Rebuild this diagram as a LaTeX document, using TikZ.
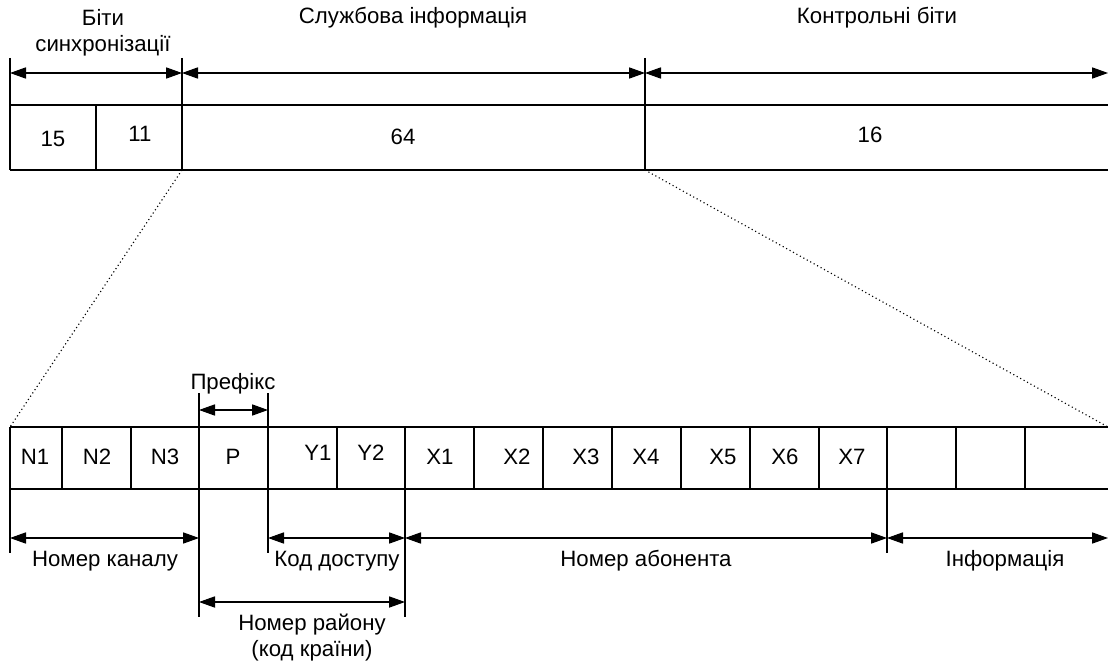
\documentclass[tikz,border=0pt]{standalone}
\usepackage{fontspec}
\setmainfont{Liberation Sans}
\usetikzlibrary{arrows.meta}
\tikzset{
  dimarrow/.style={line width=0.75pt,{Triangle[length=4mm,width=2.8mm]}-{Triangle[length=4mm,width=2.8mm]}},
  lbl/.style={font=\fontsize{15.8}{18.5}\selectfont, inner sep=0pt, align=center},
  frame/.style={line width=0.75pt},
  zoomline/.style={dotted, line width=0.8pt}
}
\begin{document}
\begin{tikzpicture}[x=0.25mm, y=-0.25mm]
    \useasboundingbox (0,0) rectangle (1108,664);
    % upper frame
    \draw[frame](10,105)--(1108,105) (10,170)--(1108,170);
    \foreach \x in {10,182,645} \draw[frame](\x,58)--(\x,170);
    \draw[frame](96,105)--(96,170);
    \foreach \x/\n in {10/s0,182/s1,645/s2,1108/s3} \coordinate (\n) at (\x,73);
    \draw[dimarrow](s0)--(s1);
    \draw[dimarrow](s1)--(s2);
    \draw[dimarrow](s2)--(s3);
    \node[lbl] (sync) at (103,33) {Біти\\синхронізації};
    \node[lbl] (service) at (413,18) {Службова інформація};
    \node[lbl] (check) at (877,18) {Контрольні біти};
    \node[lbl] (n15) at (53,139) {15};
    \node[lbl] (n11) at (140,134) {11};
    \node[lbl] (n64) at (403,137) {64};
    \node[lbl] (n16) at (870,135) {16};
    % zoom lines
    \coordinate (zl) at (182,170);
    \coordinate (zr) at (645,170);
    \coordinate (bl) at (10,427);
    \coordinate (br) at (1108,427);
    \draw[zoomline](zl)--(bl);
    \draw[zoomline](zr)--(br);
    % lower frame
    \draw[frame](10,427)--(1108,427) (10,489)--(1108,489);
    \foreach \x in {62,131,337,474,543,612,681,750,819,956,1025} \draw[frame](\x,427)--(\x,489);
    \draw[frame](10,427)--(10,553);
    \draw[frame](199,393)--(199,617);
    \draw[frame](268,393)--(268,553);
    \draw[frame](405,427)--(405,617);
    \draw[frame](887,427)--(887,553);
    \foreach \t/\x/\y in {N1/35/457,N2/97/457,N3/165/457,P/233/457,Y1/318/453,Y2/371/453,
        X1/440/457,X2/517/457,X3/586/457,X4/646/457,X5/723/457,X6/785/457,X7/852/457}
        \node[lbl] (c\t) at (\x,\y) {\t};
    \foreach \x/\n in {199/p0,268/p1} \coordinate (\n) at (\x,410);
    \foreach \x/\n in {10/d0,199/d1,268/d2,405/d3,887/d4,1108/d5} \coordinate (\n) at (\x,538);
    \foreach \x/\n in {199/r0,405/r1} \coordinate (\n) at (\x,602);
    \draw[dimarrow](p0)--(p1);
    \draw[dimarrow](d0)--(d1);
    \draw[dimarrow](d2)--(d3);
    \draw[dimarrow](d3)--(d4);
    \draw[dimarrow](d4)--(d5);
    \draw[dimarrow](r0)--(r1);
    \node[lbl] (prefix) at (233,384) {Префікс};
    \node[lbl] (channel) at (105,561) {Номер каналу};
    \node[lbl] (access) at (337,561) {Код доступу};
    \node[lbl] (subscr) at (646,561) {Номер абонента};
    \node[lbl] (info) at (1005,561) {Інформація};
    \node[lbl] (region) at (312,638) {Номер району\\(код країни)};
\end{tikzpicture}
\end{document}
